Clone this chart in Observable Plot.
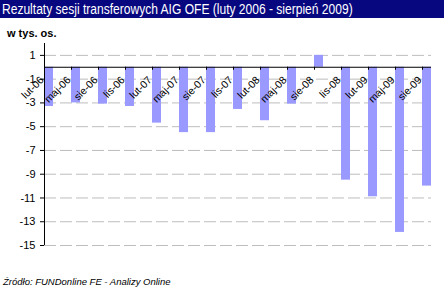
<!DOCTYPE html>
<html><head><meta charset="utf-8">
<script src="https://cdn.jsdelivr.net/npm/d3@7"></script>
<script src="https://cdn.jsdelivr.net/npm/@observablehq/plot@0.6"></script>
<style>
body{margin:0;background:#fff;}
#wrap{position:relative;width:444px;height:306px;overflow:hidden;font-family:"Liberation Sans",Arial,sans-serif;background:#fff;}
#title{height:18px;background:#07077f;color:#fff;font-size:14px;line-height:18px;white-space:nowrap;overflow:hidden;}
#title span{display:inline-block;transform:scaleX(0.86);transform-origin:0 50%;margin-left:2px;}
#ylab{position:absolute;left:7px;top:28px;font-size:11px;font-weight:bold;line-height:11px;}
#foot{position:absolute;left:3px;top:277px;font-size:9.5px;font-style:italic;line-height:10px;}
#chart{position:absolute;left:0;top:18px;}
</style></head>
<body>
<div id="wrap">
<div id="title"><span>Rezultaty sesji transferowych AIG OFE (luty 2006 - sierpień 2009)</span></div>
<div id="ylab">w tys. os.</div>
<div id="chart"></div>
<div id="foot">Źródło: FUNDonline FE - Analizy Online</div>
</div>
<script>
const months = ["lut-06","maj-06","sie-06","lis-06","lut-07","maj-07","sie-07","lis-07","lut-08","maj-08","sie-08","lis-08","lut-09","maj-09","sie-09"];
const values = [-3.3,-3.0,-3.1,-3.3,-4.7,-5.5,-5.5,-3.55,-4.5,-3.1,1.0,-9.5,-10.9,-13.9,-10.0];
const yTicks = [1,-1,-3,-5,-7,-9,-11,-13,-15];
const data = months.map((m,i)=>({m, v: values[i]}));
const chart = Plot.plot({
  width: 444, height: 250,
  marginLeft: 44, marginRight: 13, marginTop: 25, marginBottom: 23,
  style: {fontFamily: "Liberation Sans, Arial, sans-serif", fontSize: "11px", background: "transparent", color: "#000", overflow: "visible"},
  x: {domain: months, paddingInner: 0.667, paddingOuter: 0, align: 0, axis: null},
  y: {domain: [-15, 2]},
  marks: [
    Plot.ruleY(yTicks, {stroke: "#bdbdbd", strokeDasharray: "12,4"}),
    Plot.barY(data, {x: "m", y: "v", fill: "#9999ff"}),
    Plot.ruleY([0], {stroke: "#000"}),
    Plot.ruleX(months.slice(1), {dx: -4.5, y1: 0, y2: -0.25, stroke: "#000"}),
    Plot.ruleX([months[0]], {dx: -4.5, y1: -15, y2: 2, stroke: "#000"}),
    Plot.axisY(yTicks, {tickSize: 4, tickPadding: 5, tickFormat: d => String(d), label: null, fontSize: 11}),
    Plot.text(data, {x: "m", y: 0, text: "m", rotate: -45, textAnchor: "end", dx: -7, dy: 11, fontSize: 10.5})
  ]
});
document.getElementById("chart").appendChild(chart);
</script>
</body></html>
